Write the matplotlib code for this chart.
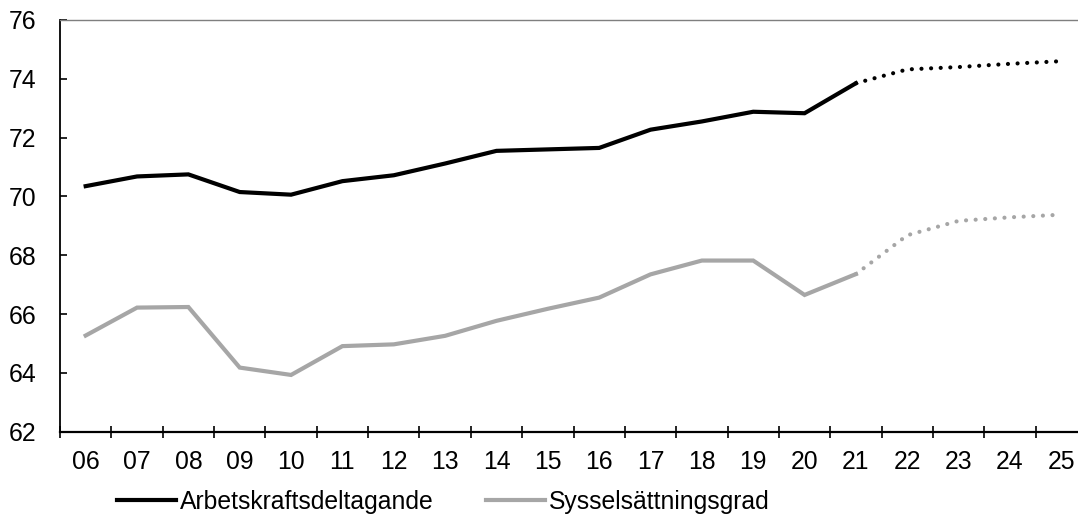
import matplotlib
matplotlib.use("Agg")
import matplotlib.pyplot as plt
import numpy as np

plt.rcParams['font.family'] = ['Liberation Sans', 'DejaVu Sans']

years = ["06", "07", "08", "09", "10", "11", "12", "13", "14", "15",
         "16", "17", "18", "19", "20", "21", "22", "23", "24", "25"]
arbetskraft = [70.35, 70.68, 70.75, 70.15, 70.06, 70.52, 70.72, 71.12, 71.55, 71.60,
               71.65, 72.27, 72.55, 72.88, 72.83, 73.85, 74.32, 74.40, 74.51, 74.60]
syssel = [65.27, 66.22, 66.24, 64.18, 63.93, 64.91, 64.97, 65.26, 65.77, 66.18,
          66.56, 67.35, 67.82, 67.82, 66.65, 67.36, 68.68, 69.17, 69.29, 69.38]
n_actual = 16  # 06..21 outcome, 22..25 forecast

label_a = "Arbetskraftsdeltagande"
label_s = "Sysselsättningsgrad"
yticks = [62, 64, 66, 68, 70, 72, 74, 76]

W, H = 1078, 518
fig = plt.figure(figsize=(W / 100, H / 100), dpi=100)
ax = fig.add_axes([60 / W, 1 - 431.7 / H, (1087 - 60) / W, (431.7 - 20) / H])

x = np.arange(len(years))
gray = "#A6A6A6"
lw = 3.0
dot = dict(linestyle=(0, (0.01, 2.3)), dash_capstyle='round')

la, = ax.plot(x[:n_actual], arbetskraft[:n_actual], color="black", lw=lw,
              solid_joinstyle='miter', label=label_a)
ax.plot(x[n_actual - 1:], arbetskraft[n_actual - 1:], color="black", lw=lw, **dot)
ls, = ax.plot(x[:n_actual], syssel[:n_actual], color=gray, lw=lw,
              solid_joinstyle='miter', label=label_s)
ax.plot(x[n_actual - 1:], syssel[n_actual - 1:], color=gray, lw=lw, **dot)

ax.set_xlim(-0.5, len(years) - 0.5)
ax.set_ylim(62, 76)
ax.set_yticks(yticks)
ax.set_yticklabels([str(v) for v in yticks])
ax.set_xticks(np.arange(-0.5, len(years)), minor=False)
ax.set_xticklabels([])
ax.set_xticks(x, minor=True)
ax.set_xticklabels(years, minor=True)

fs = 17.8
ax.tick_params(axis='y', direction='in', length=5, width=1.2, pad=17, labelsize=fs,
               colors='black')
ax.tick_params(axis='x', which='major', direction='inout', length=8.6, width=1.2)
ax.tick_params(axis='x', which='minor', length=0, pad=13.5, labelsize=fs)

ax.spines['right'].set_visible(False)
ax.spines['top'].set_color('#7f7f7f')
ax.spines['top'].set_linewidth(1.0)
ax.spines['left'].set_linewidth(1.3)
ax.spines['bottom'].set_linewidth(1.6)

fig.legend(handles=[la, ls], loc='center left', bbox_to_anchor=(117 / W, 1 - 502 / H),
           ncol=2, frameon=False, fontsize=fs, handlelength=2.4, handletextpad=0.15,
           columnspacing=2.1, borderpad=0, borderaxespad=0)

fig.savefig("out.png", dpi=100)
